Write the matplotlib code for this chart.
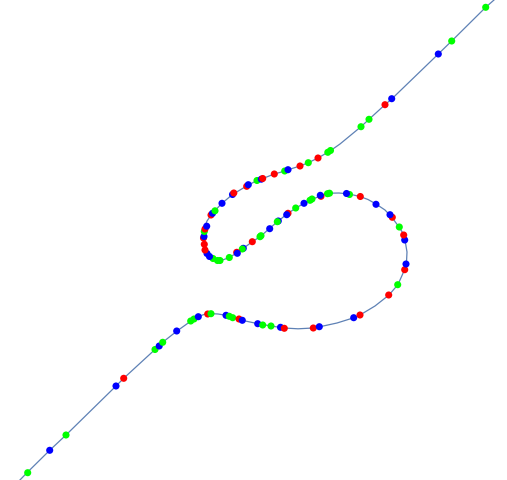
import matplotlib
matplotlib.use("Agg")
import matplotlib.pyplot as plt

# ---------------- CURVE (pixel coords) ----------------
curve_x = [18, 27, 50, 66, 116, 124, 155, 163, 177, 191, 198, 205, 211, 218, 226,
           233, 242, 258, 271, 284, 298, 313, 320, 337, 354, 360, 375, 389, 398,
           404, 406.5, 407, 405, 403.5, 399, 392, 385, 376, 368, 360, 349, 339,
           330, 321, 311, 304, 296, 287, 278, 270, 261, 252, 243, 237, 229, 224,
           219, 214, 210, 207, 205.5, 204, 203.3, 203.5, 205, 207, 212, 215, 222,
           232.5, 240, 247.5, 257, 262, 274.3, 285, 292, 300, 308.3, 318, 324, 330,
           340, 361, 369, 385, 392, 415, 438.3, 451.7, 485.7, 494, 497]
curve_y = [482, 472.7, 450, 435, 386, 378, 349.5, 342, 331, 321, 316.5, 314.2, 313.6,
           314, 315.3, 317.5, 320.3, 323.7, 326, 328, 328.8, 328, 326.7, 323, 317.7,
           315, 306, 295, 284.5, 271, 262, 252, 240, 234, 227, 217.5, 210, 204,
           199.5, 196.5, 194, 193, 193.2, 195.5, 200, 203.3, 208, 214, 221.3, 228,
           236, 242, 248.5, 253, 257.5, 259.5, 260.4, 259.5, 257.5, 254.5, 250.5,
           244, 237, 231, 226, 221, 213.8, 210.5, 203.3, 194.5, 190, 185.5, 180.5,
           178.8, 174, 171, 168.5, 166, 162.7, 158, 154.5, 151, 144, 126.7, 119.3,
           104.7, 98.7, 76.5, 54, 41, 7.3, 0, -3]

# ---------------- POINTS ON THE CURVE ----------------
pts_x = [27.7, 49.7, 66, 116, 123.7, 155, 159.2, 162.7, 176.7, 190.7, 194, 198.3,
         207.7, 211, 226, 229.3, 232.7, 239, 242.3, 257.7, 262.7, 271, 280.5, 284.3,
         313.3, 319.3, 353.7, 360, 388.7, 397.7, 404.7, 406, 404.7, 403.7, 399.3,
         392.3, 390, 376, 360.3, 349.5, 346.5, 329.5, 327.5, 321, 320.3, 312, 310,
         304, 295.7, 288, 286.7, 278.3, 277.3, 269.7, 261, 260, 252.3, 243.3, 242.3,
         236.7, 237.3, 229.3, 220, 217.5, 213, 209.5, 207, 205, 204.3, 203.5, 204,
         204.3, 205, 206.7, 211, 212.5, 215, 222, 232.5, 233.8, 246.7, 248.3, 257,
         261.3, 262.7, 274.3, 284.7, 288, 300, 308.3, 318, 327.8, 330.5, 361, 369,
         385, 391.7, 438.3, 451.7, 485.7]
pts_y = [472.7, 450.3, 435, 386, 378.3, 349.5, 346, 342.3, 331, 321, 319, 316.7,
         314, 313.7, 315.3, 316.3, 317.7, 319, 320.3, 323.7, 325, 326, 327.3, 328.3,
         328, 326.7, 317.7, 315, 295, 284.7, 269.7, 264, 240, 235, 227, 217.3,
         214.7, 204.3, 196.5, 194.5, 193.5, 193.2, 193.7, 196.3, 195.3, 199, 200.3,
         203.3, 208, 213.3, 214.7, 221, 221.7, 228.7, 235.7, 236.7, 241.7, 248.3,
         249, 252.3, 253.3, 257.5, 260.5, 260.5, 258.5, 256.5, 253.5, 250, 244.3,
         238, 236.5, 231.5, 229, 226.2, 215, 213.3, 210.8, 203.3, 194.5, 193,
         186.3, 184.7, 180.5, 179.2, 178.5, 174, 171, 169.7, 166, 162.7, 158,
         152.3, 150.5, 126.7, 119.3, 104.7, 98.7, 54, 41, 7.3]
pts_c = ["g", "b", "g", "b", "r", "g", "b", "g", "b", "g", "g", "b",
         "r", "g", "b", "g", "g", "r", "b", "b", "g", "g", "b", "r",
         "r", "b", "b", "r", "r", "g", "r", "b", "b", "r", "g",
         "r", "b", "b", "r", "g", "b", "g", "g", "r", "b", "g", "g",
         "b", "g", "r", "b", "b", "g", "b", "g", "g", "r", "b", "g",
         "r", "b", "g", "g", "g", "g", "b", "b", "r", "r", "r", "b",
         "g", "r", "b", "r", "b", "g", "b", "b", "r", "r", "b", "g",
         "b", "r", "r", "g", "b", "r", "g", "r", "g", "g", "g", "g",
         "r", "b", "b", "g", "g"]

color_map = {"r": (1.0, 0.0, 0.0), "g": (0.0, 1.0, 0.0), "b": (0.0, 0.0, 1.0)}

fig = plt.figure(figsize=(5.07, 4.80), dpi=100)
ax = fig.add_axes([0, 0, 1, 1])
ax.plot(curve_x, curve_y, color="#5E81B5", linewidth=0.9, zorder=1)
ax.scatter(pts_x, pts_y, c=[color_map[c] for c in pts_c], s=26,
           edgecolors="none", zorder=2)
ax.set_xlim(0, 507)
ax.set_ylim(480, 0)
ax.axis("off")

fig.savefig("out.png", dpi=100)
